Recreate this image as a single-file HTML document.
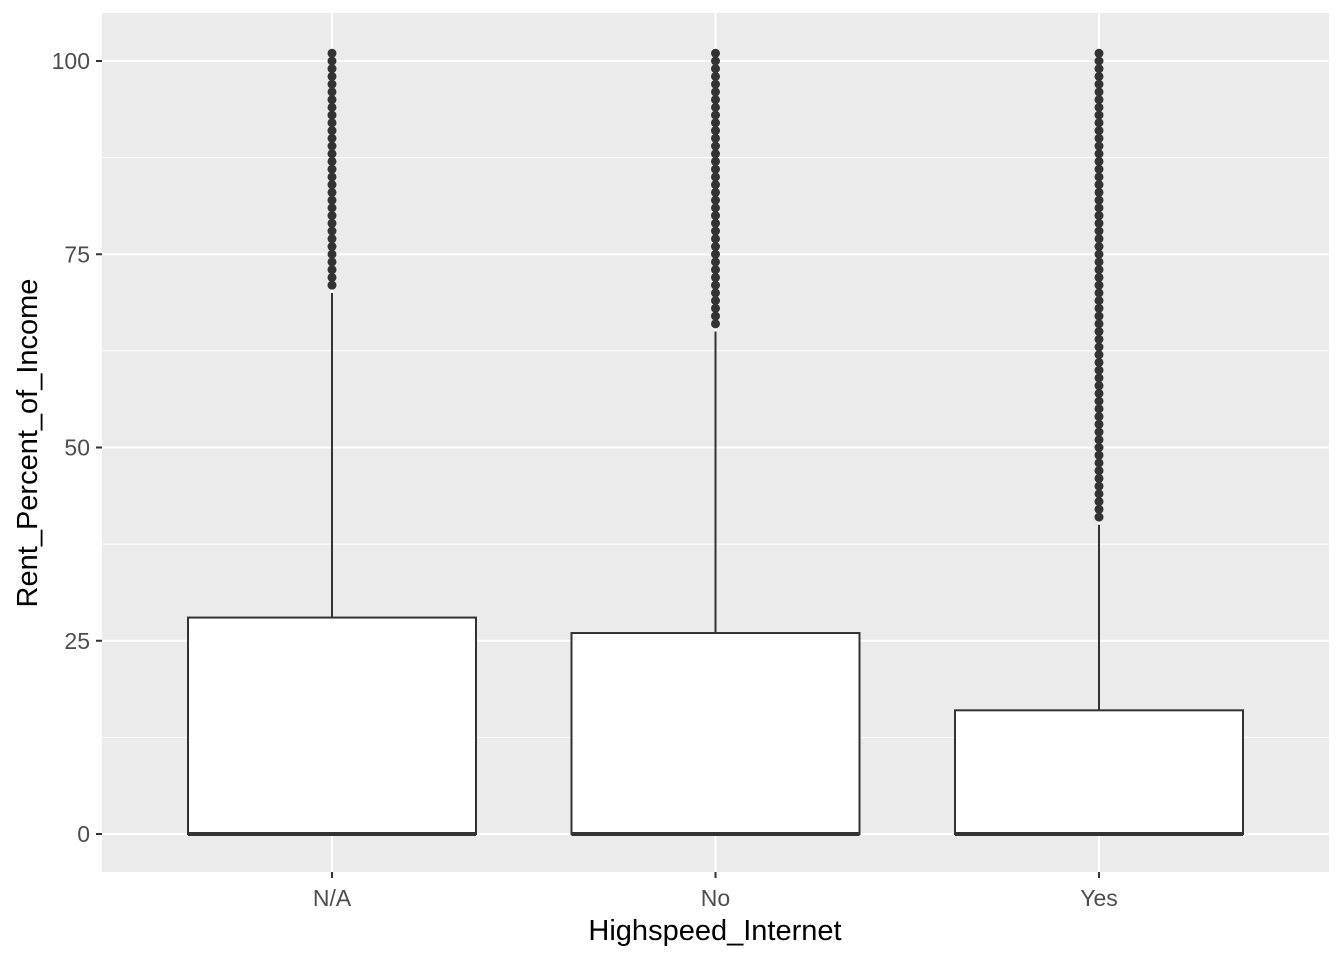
<!DOCTYPE html>
<html><head><meta charset="utf-8"><style>
body{margin:0;background:#fff;}
svg{display:block;font-family:"Liberation Sans",Arial,sans-serif;}
</style></head><body>
<svg id="chart" width="1344" height="960">
<rect x="102" y="13" width="1227" height="859" fill="#ebebeb"/>
<g id="grid"></g><g id="boxes"></g><g id="axes"></g>
<text x="715" y="940" font-size="29" text-anchor="middle" fill="#000">Highspeed_Internet</text>
<text transform="translate(37,443) rotate(-90)" font-size="29" text-anchor="middle" fill="#000">Rent_Percent_of_Income</text>
</svg>
<script>
const categories=["N/A","No","Yes"];
const q1=[0,0,0];
const medians=[0,0,0];
const q3=[28,26,16];
const whiskerLow=[0,0,0];
const whiskerHigh=[70,65,40];
const outlierMin=[71,66,41];
const outlierMax=[101,101,101];
const yTicks=[0,25,50,75,100];
const NS="http://www.w3.org/2000/svg";
const y=v=>834-v*7.73;
const x=i=>332+i*383.5;
const bw=288;
function mk(tag,attrs,parent){const e=document.createElementNS(NS,tag);for(const k in attrs)e.setAttribute(k,attrs[k]);parent.appendChild(e);return e;}
const grid=document.getElementById('grid'),boxes=document.getElementById('boxes'),axes=document.getElementById('axes');
for(let k=0;k<yTicks.length-1;k++){const m=(yTicks[k]+yTicks[k+1])/2;
 const l=mk('line',{x1:102,x2:1329,y1:y(m),y2:y(m),stroke:'#fff','stroke-width':1},grid);
 
 }
yTicks.forEach(t=>{
 const l=mk('line',{x1:102,x2:1329,y1:y(t),y2:y(t),stroke:'#fff','stroke-width':2},grid);
 
 
 const tk=mk('line',{x1:96,x2:102,y1:y(t),y2:y(t),stroke:'#333','stroke-width':2},axes);
 
 
 const tx=mk('text',{x:90,y:y(t)+8,'font-size':23,'text-anchor':'end',fill:'#4d4d4d'},axes);tx.textContent=t;
 
 
});
categories.forEach((c,i)=>{
 const l=mk('line',{x1:x(i),x2:x(i),y1:13,y2:872,stroke:'#fff','stroke-width':2},grid);
 
 
 const tk=mk('line',{x1:x(i),x2:x(i),y1:872,y2:878,stroke:'#333','stroke-width':2},axes);
 
 
 const tx=mk('text',{x:x(i),y:906,'font-size':23,'text-anchor':'middle',fill:'#4d4d4d'},axes);tx.textContent=c;
 
 
 const g=mk('g',{},boxes);
 
 
 const w=mk('line',{x1:x(i),x2:x(i),y1:y(q3[i]),y2:y(whiskerHigh[i]),stroke:'#333','stroke-width':2},g);
 
 
 const r=mk('rect',{x:x(i)-bw/2,y:y(q3[i]),width:bw,height:y(q1[i])-y(q3[i]),fill:'#fff',stroke:'#333','stroke-width':2},g);
 
 
 const md=mk('line',{x1:x(i)-bw/2,x2:x(i)+bw/2,y1:y(medians[i]),y2:y(medians[i]),stroke:'#333','stroke-width':4},g);
 
 
 for(let v=outlierMin[i];v<=outlierMax[i];v++){
  const p=mk('circle',{cx:x(i),cy:y(v),r:4.5,fill:'#333'},g);
  
  
 }
});
</script>
</body></html>
